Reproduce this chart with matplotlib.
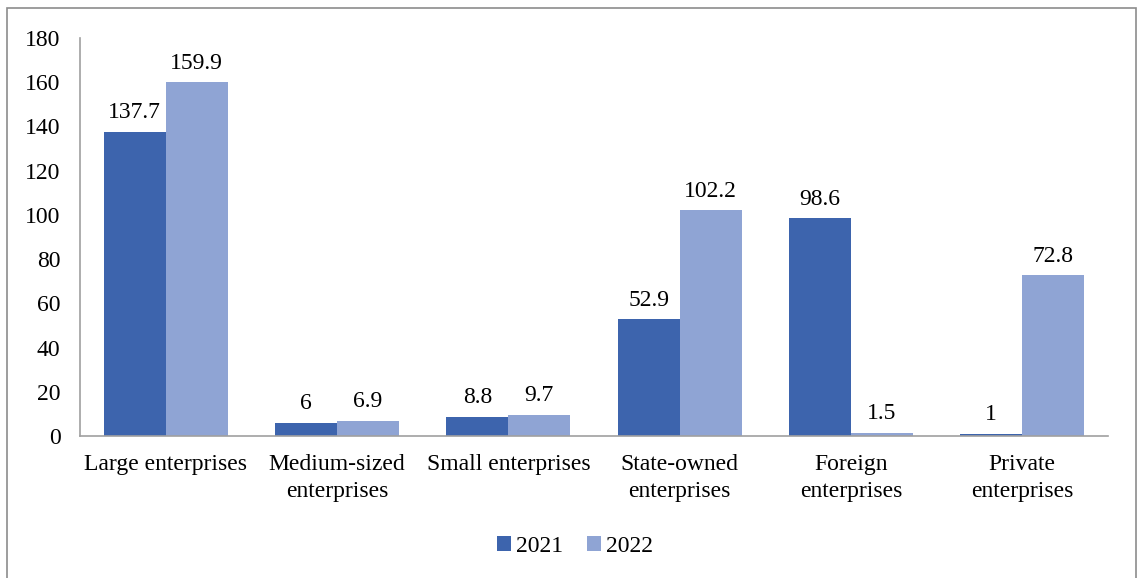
import matplotlib
matplotlib.use("Agg")
import matplotlib.pyplot as plt
from matplotlib.patches import Rectangle
import numpy as np

categories = ["Large enterprises", "Medium-sized\nenterprises", "Small enterprises",
              "State-owned\nenterprises", "Foreign\nenterprises", "Private\nenterprises"]
series_names = ["2021", "2022"]
values_2021 = [137.7, 6, 8.8, 52.9, 98.6, 1]
values_2022 = [159.9, 6.9, 9.7, 102.2, 1.5, 72.8]
label_2021 = ["137.7", "6", "8.8", "52.9", "98.6", "1"]
label_2022 = ["159.9", "6.9", "9.7", "102.2", "1.5", "72.8"]

plt.rcParams['font.family'] = ['Liberation Serif', 'DejaVu Serif']
colors = ["#3D64AD", "#8FA4D4"]
FS = 17

fig = plt.figure(figsize=(11.38, 5.78), dpi=100)
ax = fig.add_axes([80/1138, 1-436/578, 1028/1138, 398/578])

x = np.arange(len(categories))
w = 0.362
b1 = ax.bar(x - w/2, values_2021, w, color=colors[0], label=series_names[0])
b2 = ax.bar(x + w/2, values_2022, w, color=colors[1], label=series_names[1])

for bars, labs in ((b1, label_2021), (b2, label_2022)):
    for r, t in zip(bars, labs):
        ax.annotate(t, (r.get_x() + r.get_width()/2, r.get_height()),
                    xytext=(0, 6), textcoords="offset points",
                    ha="center", va="bottom", fontsize=FS, color="#000000")

ax.set_xlim(-0.5, len(categories) - 0.5)
ax.set_ylim(0, 180)
ax.set_yticks(np.arange(0, 181, 20))
ax.set_xticks(x)
ax.set_xticklabels(categories, fontsize=FS, linespacing=1.38)
ax.tick_params(axis='y', length=0, pad=14, labelsize=FS)
ax.tick_params(axis='x', length=0, pad=13)
for s in ("top", "right"):
    ax.spines[s].set_visible(False)
for s in ("left", "bottom"):
    ax.spines[s].set_color("#A0A0A0")
    ax.spines[s].set_linewidth(1.2)

leg = fig.legend(handles=[b1, b2], labels=series_names, loc="center",
                 bbox_to_anchor=(575/1138, 1-546/578), ncol=2, frameon=False,
                 fontsize=FS, handlelength=0.6, handleheight=0.6,
                 handletextpad=0.2, columnspacing=1.0)

fig.patches.append(Rectangle((7/1138, -0.01), 1129/1138, 1 - 8/578 + 0.01,
                             transform=fig.transFigure, fill=False,
                             edgecolor="#8C8C8C", linewidth=1.2))

fig.savefig("out.png", dpi=100)
